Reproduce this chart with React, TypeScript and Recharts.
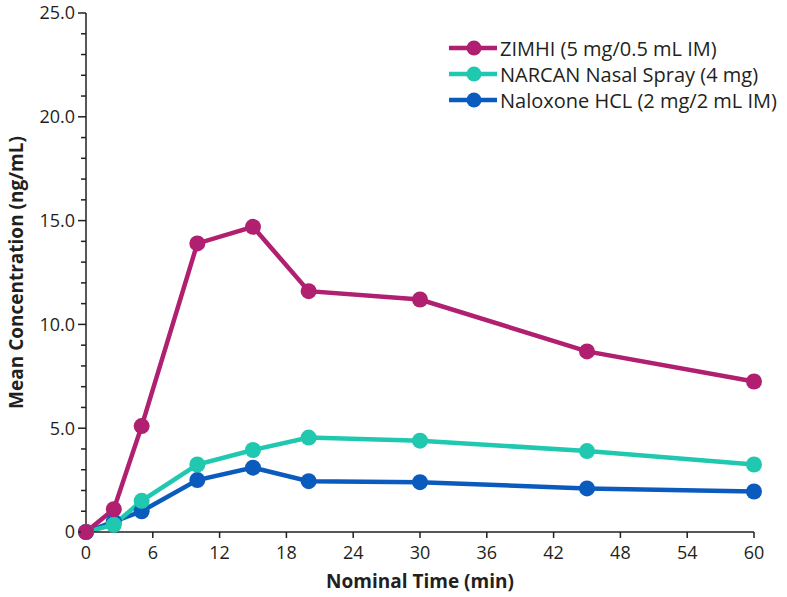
import { LineChart, Line, XAxis, YAxis, Label } from 'recharts';

const times = [0, 2.5, 5, 10, 15, 20, 30, 45, 60];
const zimhi = [0, 1.1, 5.1, 13.9, 14.7, 11.6, 11.2, 8.7, 7.25];
const narcan = [0, 0.35, 1.5, 3.25, 3.95, 4.55, 4.4, 3.9, 3.25];
const naloxone = [0, 0.5, 1.0, 2.5, 3.1, 2.45, 2.4, 2.1, 1.95];

const xTicks = [0, 6, 12, 18, 24, 30, 36, 42, 48, 54, 60];
const yTicks = [0, 1, 2, 3, 4, 5, 6, 7, 8, 9, 10, 11, 12, 13, 14, 15, 16, 17, 18, 19, 20, 21, 22, 23, 24, 25];

const series = [
  { key: 'zimhi', name: 'ZIMHI (5 mg/0.5 mL IM)', color: '#B01F70' },
  { key: 'narcan', name: 'NARCAN Nasal Spray (4 mg)', color: '#20C8B0' },
  { key: 'naloxone', name: 'Naloxone HCL (2 mg/2 mL IM)', color: '#0B5BBE' },
];

const data = times.map((t, i) => ({
  t,
  zimhi: zimhi[i],
  narcan: narcan[i],
  naloxone: naloxone[i],
}));

const INK = '#231F20';
const FONT = '"Open Sans", "Noto Sans", sans-serif';
const Y_TICK_MARGIN = 6;

function YTick(props: any) {
  const { x, y, payload } = props;
  const v = payload.value as number;
  if (v % 5 !== 0) return null;
  const lineStart = x + Y_TICK_MARGIN;
  return (
    <g>
      <line x1={lineStart - 3} x2={lineStart} y1={y} y2={y} stroke={INK} strokeWidth={1.5} />
      <text x={x} y={y} dy="0.36em" textAnchor="end" fill={INK} fontSize={18} fontFamily={FONT}>
        {v === 0 ? '0' : v.toFixed(1)}
      </text>
    </g>
  );
}

function YTitle(props: any) {
  const { viewBox } = props;
  const cy = viewBox.y + viewBox.height / 2;
  return (
    <text
      x={16}
      y={cy}
      transform={`rotate(-90, 16, ${cy})`}
      textAnchor="middle"
      dominantBaseline="central"
      fill={INK}
      fontSize={19}
      fontWeight="bold"
      fontFamily={FONT}
    >
      Mean Concentration (ng/mL)
    </text>
  );
}

function LegendBox() {
  return (
    <div style={{ position: 'absolute', left: 447, top: 35, fontFamily: FONT, fontSize: 20, color: INK }}>
      {series.map((s) => (
        <div key={s.key} style={{ display: 'flex', alignItems: 'center', height: 26, whiteSpace: 'nowrap' }}>
          <svg width={52} height={20} style={{ marginRight: 1 }}>
            <line x1={2} x2={50} y1={10} y2={10} stroke={s.color} strokeWidth={4.5} />
            <circle cx={27} cy={10} r={7.5} fill={s.color} />
          </svg>
          <span>{s.name}</span>
        </div>
      ))}
    </div>
  );
}

export default function App() {
  return (
    <div style={{ position: 'absolute', left: 0, top: 0, width: 787, height: 597, background: '#fff', fontFamily: FONT }}>
      <LineChart width={787} height={597} data={data} margin={{ top: 13, right: 33, bottom: 0, left: 0 }}>
        <XAxis
          dataKey="t"
          type="number"
          domain={[0, 60]}
          ticks={xTicks}
          interval={0}
          height={65}
          tickSize={6}
          tickMargin={8}
          axisLine={{ stroke: INK, strokeWidth: 1.5 }}
          tickLine={{ stroke: INK, strokeWidth: 1.5 }}
          tick={{ fill: INK, fontSize: 18, fontFamily: FONT }}
        >
          <Label
            value="Nominal Time (min)"
            position="insideBottom"
            offset={9}
            style={{ fill: INK, fontSize: 19, fontWeight: 'bold', fontFamily: FONT }}
          />
        </XAxis>
        <YAxis
          type="number"
          domain={[0, 25]}
          ticks={yTicks}
          interval={0}
          width={86}
          tickSize={5}
          tickMargin={Y_TICK_MARGIN}
          axisLine={{ stroke: INK, strokeWidth: 1.5 }}
          tickLine={{ stroke: INK, strokeWidth: 1.5 }}
          tick={<YTick />}
        >
          <Label content={<YTitle />} />
        </YAxis>
        {[...series].reverse().map((s) => (
          <Line
            key={s.key}
            dataKey={s.key}
            name={s.name}
            type="linear"
            stroke={s.color}
            strokeWidth={4.5}
            dot={{ r: 8, fill: s.color, stroke: 'none' }}
            activeDot={false}
            isAnimationActive={false}
          />
        ))}
      </LineChart>
      <LegendBox />
    </div>
  );
}
